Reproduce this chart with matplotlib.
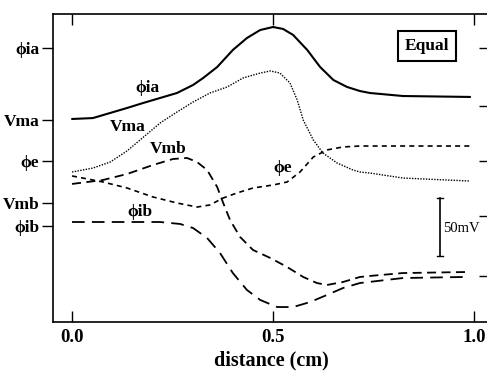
import matplotlib
matplotlib.use("Agg")
import matplotlib.pyplot as plt

# distances (cm) and potentials (mV, relative offsets)
phia_x = [0.0, 0.052, 0.095, 0.137, 0.177, 0.219, 0.261, 0.301, 0.326, 0.361, 0.400, 0.435, 0.468, 0.500,
          0.525, 0.550, 0.585, 0.617, 0.650, 0.684, 0.716, 0.741, 0.823, 0.990]
phia_y = [175, 175.8, 180.2, 184.5, 188.8, 193.1, 197.4, 204.3, 210.3, 219.8, 234.5, 244.8, 251.7, 254.3,
          252.6, 247.4, 234.5, 219.8, 208.6, 202.6, 199.1, 197.4, 194.8, 194]

vma_x = [0.0, 0.052, 0.095, 0.137, 0.177, 0.219, 0.261, 0.301, 0.343, 0.386, 0.425, 0.468, 0.493, 0.517,
         0.542, 0.560, 0.575, 0.600, 0.624, 0.659, 0.699, 0.716, 0.741, 0.823, 0.990]
vma_y = [129.3, 132.7, 137.9, 147.5, 159.2, 171.5, 181.0, 189.6, 197.4, 202.6, 210.3, 214.6, 216.4, 214.6,
         206.0, 191.4, 174.1, 156.9, 145.7, 137.1, 131.0, 129.3, 128.4, 124.1, 121.5]

vmb_x = [0.0, 0.077, 0.137, 0.201, 0.251, 0.286, 0.311, 0.336, 0.361, 0.376, 0.393, 0.418, 0.450, 0.493,
         0.535, 0.575, 0.609, 0.634, 0.674, 0.716, 0.741, 0.823, 0.983]
vmb_y = [119.0, 122.4, 127.6, 135.3, 140.5, 141.4, 137.9, 131.0, 116.4, 102.6, 87.9, 73.3, 62.1, 55.2,
         47.4, 38.8, 33.6, 31.9, 34.5, 38.8, 39.7, 42.2, 43.1]

phie_x = [0.0, 0.077, 0.137, 0.201, 0.261, 0.311, 0.343, 0.376, 0.410, 0.450, 0.500, 0.535, 0.567, 0.600,
          0.634, 0.674, 0.716, 0.990]
phie_y = [125.9, 120.7, 115.5, 107.8, 102.6, 99.1, 100.9, 106.9, 111.2, 115.5, 118.1, 120.7, 129.3, 142.2,
          148.3, 150.9, 151.7, 151.7]

phib_x = [0.0, 0.219, 0.269, 0.301, 0.336, 0.368, 0.400, 0.435, 0.468, 0.510, 0.550, 0.592, 0.634, 0.674,
          0.716, 0.823, 0.973]
phib_y = [86.2, 86.2, 84.5, 81.0, 72.4, 59.5, 42.2, 27.6, 19.0, 12.9, 12.9, 17.2, 23.3, 29.3,
          33.6, 37.9, 38.8]

left_ticks = [236, 174, 139, 103, 83]
left_labels = ["ϕia", "Vma", "ϕe", "Vmb", "ϕib"]
right_ticks = [236, 186, 139, 91, 40]
x_ticks = [0.0, 0.5, 1.0]
x_labels = ["0.0", "0.5", "1.0"]

FAM = ["Liberation Serif", "DejaVu Serif"]
plt.rcParams["font.family"] = FAM

fig = plt.figure(figsize=(4.87, 3.74), dpi=100)
ax = fig.add_axes([53/487, 1-322/374, (489-53)/487, (322-14)/374])
ax.set_xlim(-0.0473, 1.037)
ax.set_ylim(0, 265.5)

ax.plot(phia_x, phia_y, color="black", lw=1.5, solid_capstyle="round")
ax.plot(vma_x, vma_y, color="black", lw=1.0, linestyle=(0, (1, 1)))
ax.plot(vmb_x, vmb_y, color="black", lw=1.3, linestyle=(0, (5, 3)))
ax.plot(phie_x, phie_y, color="black", lw=1.2, linestyle=(0, (3, 2.5)))
ax.plot(phib_x, phib_y, color="black", lw=1.3, linestyle=(0, (7, 4)))

for s in ax.spines.values():
    s.set_linewidth(1.2)
ax.spines["right"].set_visible(False)

ax.set_yticks(left_ticks)
ax.set_yticklabels(left_labels, fontsize=12.5, fontweight="bold")
ax.tick_params(axis="y", direction="out", length=8, width=1, pad=2)
ax.set_xticks(x_ticks)
ax.set_xticklabels(x_labels, fontsize=13.5, fontweight="bold")
ax.tick_params(axis="x", direction="in", length=8, width=1, top=True, pad=5)

ax2 = ax.twinx()
ax2.set_ylim(ax.get_ylim())
ax2.set_yticks(right_ticks)
ax2.set_yticklabels([])
ax2.tick_params(axis="y", direction="in", length=7, width=1)
for s in ax2.spines.values():
    s.set_visible(False)

ax.set_xlabel("distance (cm)", fontsize=14.5, fontweight="bold", labelpad=3)

tk = dict(fontsize=12.5, fontweight="bold", ha="center", va="center")
ax.text(0.187, 202, "ϕia", **tk)
ax.text(0.139, 168, "Vma", **tk)
ax.text(0.239, 149, "Vmb", **tk)
ax.text(0.525, 133, "ϕe", **tk)
ax.text(0.169, 95, "ϕib", **tk)

ax.text(0.883, 238, "Equal", fontsize=12.5, fontweight="bold", ha="center", va="center",
        bbox=dict(boxstyle="square,pad=0.4", fc="white", ec="black", lw=1.5))

ax.plot([0.915, 0.915], [57, 107], color="black", lw=1.2)
ax.plot([0.908, 0.922], [57, 57], color="black", lw=1.0)
ax.plot([0.908, 0.922], [107, 107], color="black", lw=1.0)
ax.text(0.922, 81, "50mV", fontsize=10.5, ha="left", va="center")

fig.savefig("out.png", dpi=100)
